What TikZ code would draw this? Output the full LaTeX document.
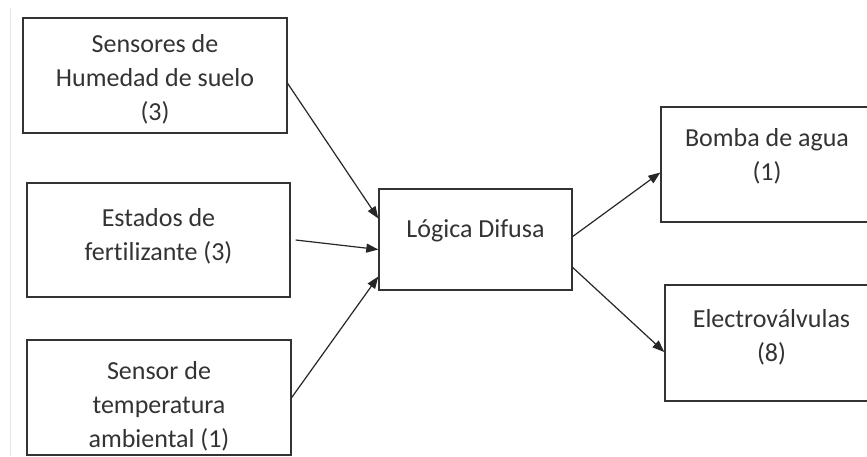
\documentclass[tikz,border=0pt]{standalone}
\usepackage{fontspec}
\setmainfont{Carlito}[Ligatures=NoCommon]
\usetikzlibrary{arrows.meta}

\begin{document}
\begin{tikzpicture}[
  x=1pt, y=-1pt,
  box/.style   = {draw=black!80, line width=1.4pt, align=center,
                  font=\fontsize{26}{34}\selectfont, text=black!80, inner sep=0pt},
  flow/.style  = {line width=1.2pt, draw=black!85, -{Triangle[length=12pt,width=9pt]}},
  margin/.style = {black!10, line width=0.8pt},
]
  \useasboundingbox (0,0) rectangle (867,456);

  % faint page edge of the scanned figure
  \draw[margin] (10,8) -- (10,456);

  % text height/depth only place the lines inside each box
  \node[box, minimum width=264pt, minimum height=115pt, text height=96pt, text depth=6pt]
    (hum)   at (155,75.5)  {Sensores de\\Humedad de suelo\\(3)};
  \node[box, minimum width=263pt, minimum height=114pt, text height=54pt, text depth=14pt]
    (fert)  at (158.5,240) {Estados de\\fertilizante (3)};
  \node[box, minimum width=264pt, minimum height=115pt, text height=101pt, text depth=1pt]
    (temp)  at (159,397.5) {Sensor de\\temperatura\\ambiental (1)};
  \node[box, minimum width=193pt, minimum height=101pt, text height=15pt, text depth=19pt]
    (logic) at (475.5,239.5) {Lógica Difusa};
  \node[box, minimum width=212pt, minimum height=115pt, text height=50pt, text depth=18pt]
    (pump)  at (767,164.5) {Bomba de agua\\(1)};
  \node[box, minimum width=213pt, minimum height=116pt, text height=52pt, text depth=16pt]
    (valv)  at (771.5,343) {Electroválvulas\\(8)};

  \draw[flow] ([yshift=-8pt]hum.east)  -- ([yshift=21pt]logic.west);
  \draw[flow] ([xshift=5pt]fert.east)  -- ([yshift=-10pt]logic.west);
  \draw[flow] (temp.east)              -- ([yshift=-37pt]logic.west);
  \draw[flow] ([yshift=3pt]logic.east) -- ([yshift=-8pt]pump.west);
  \draw[flow] ([yshift=-28pt]logic.east) -- ([yshift=-9pt]valv.west);
\end{tikzpicture}
\end{document}
